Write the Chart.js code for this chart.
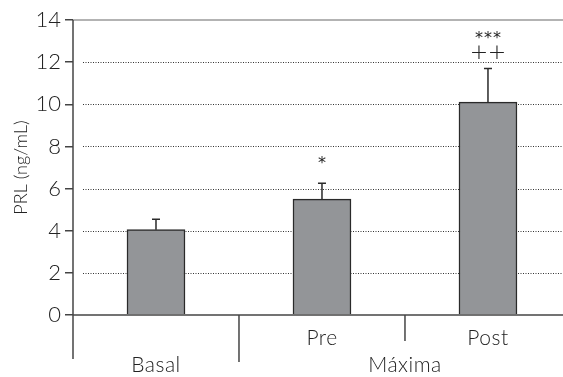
<!DOCTYPE html>
<html><head><meta charset="utf-8">
<script src="https://cdn.jsdelivr.net/npm/chart.js@4"></script>
<style>html,body{margin:0;padding:0;background:#fff}#w{width:563px;height:377px}</style>
</head><body><div id="w"><canvas id="c" width="563" height="377"></canvas></div>
<script>
const categories = ["Basal", "Pre", "Post"];
const groupLabels = ["Basal", "Máxima"];
const values = [4.05, 5.5, 10.1];
const errors = [0.5, 0.75, 1.6];
const marksTop = ["", "*", "***"];
const marksBottom = ["", "", "++"];
const yTicks = [0, 2, 4, 6, 8, 10, 12, 14];

const FONT = "Lato";
const TXT = "#222";

const deco = {
  id: 'deco',
  beforeDatasetsDraw(chart) {
    const {ctx, chartArea: a, scales: {y}} = chart;
    ctx.save();
    ctx.strokeStyle = '#333';
    ctx.lineWidth = 1;
    ctx.setLineDash([1, 1.5]);
    yTicks.forEach(v => {
      if (v === 0 || v === 14) return;
      const py = Math.round(y.getPixelForValue(v)) + 0.5;
      ctx.beginPath(); ctx.moveTo(a.left + 10, py); ctx.lineTo(a.right, py); ctx.stroke();
    });
    ctx.setLineDash([]);
    ctx.strokeStyle = '#9a9a9a';
    ctx.lineWidth = 1.5;
    const pt = y.getPixelForValue(14);
    ctx.beginPath(); ctx.moveTo(a.left, pt); ctx.lineTo(a.right, pt); ctx.stroke();
    ctx.restore();
  },
  afterDatasetsDraw(chart) {
    const {ctx, chartArea: a, scales: {x, y}} = chart;
    ctx.save();
    const p0 = y.getPixelForValue(0);
    ctx.strokeStyle = '#444'; ctx.lineWidth = 1.5;
    ctx.beginPath(); ctx.moveTo(a.left, p0); ctx.lineTo(a.right, p0); ctx.stroke();
    ctx.beginPath(); ctx.moveTo(a.left, y.getPixelForValue(14)); ctx.lineTo(a.left, 359); ctx.stroke();
    ctx.beginPath(); ctx.moveTo(x.getPixelForValue(0.5), p0); ctx.lineTo(x.getPixelForValue(0.5), 362); ctx.stroke();
    ctx.beginPath(); ctx.moveTo(x.getPixelForValue(1.5), p0); ctx.lineTo(x.getPixelForValue(1.5), 341); ctx.stroke();
    ctx.strokeStyle = '#2a2a2a'; ctx.lineWidth = 1.5;
    values.forEach((v, i) => {
      const px = x.getPixelForValue(i);
      const yb = y.getPixelForValue(v);
      const yt = y.getPixelForValue(v + errors[i]);
      ctx.beginPath(); ctx.moveTo(px, yb); ctx.lineTo(px, yt);
      ctx.moveTo(px - 4, yt); ctx.lineTo(px + 4, yt); ctx.stroke();
      ctx.fillStyle = TXT;
      ctx.textAlign = 'center';
      ctx.textBaseline = 'middle';
      if (marksBottom[i]) {
        ctx.font = '200 22px "DejaVu Sans"';
        const n = marksBottom[i].length;
        for (let k = 0; k < n; k++) {
          ctx.fillText(marksBottom[i][k], px + (k - (n - 1) / 2) * 18, yt - 15);
        }
        ctx.font = '16px "DejaVu Sans"';
        const m = marksTop[i].length;
        for (let k = 0; k < m; k++) {
          ctx.fillText(marksTop[i][k], px + (k - (m - 1) / 2) * 9, yt - 30);
        }
      } else if (marksTop[i]) {
        ctx.font = '16px "DejaVu Sans"';
        ctx.fillText(marksTop[i], px, yt - 19);
      }
    });
    ctx.fillStyle = TXT;
    ctx.font = '300 21px ' + FONT;
    try { ctx.letterSpacing = '0.5px'; } catch (e) {}
    ctx.textAlign = 'center'; ctx.textBaseline = 'middle';
    ctx.fillText(categories[1], x.getPixelForValue(1), 338);
    ctx.fillText(categories[2], x.getPixelForValue(2), 338);
    ctx.fillText(groupLabels[0], x.getPixelForValue(0), 365);
    ctx.fillText(groupLabels[1], x.getPixelForValue(1.5), 365);
    ctx.restore();
  }
};

new Chart(document.getElementById('c'), {
  type: 'bar',
  data: {
    datasets: [{
      data: values.map((v, i) => ({x: i, y: v})),
      backgroundColor: '#939598',
      borderColor: '#2a2a2a',
      borderWidth: 1.5,
      barThickness: 58
    }]
  },
  options: {
    responsive: false,
    animation: false,
    events: [],
    layout: {padding: {top: 20, bottom: 62, right: 0, left: 0}},
    plugins: {legend: {display: false}, tooltip: {enabled: false}},
    scales: {
      x: {
        type: 'linear', min: -0.5, max: 2.452, display: false, offset: false
      },
      y: {
        min: 0, max: 14,
        afterFit(s) { s.width = 73; },
        afterBuildTicks(s) { s.ticks = yTicks.map(v => ({value: v})); },
        border: {display: false},
        grid: {drawOnChartArea: false, drawTicks: true, tickLength: 8, color: '#444', lineWidth: 1.5},
        ticks: {color: TXT, font: {family: FONT, size: 22, weight: 300}, padding: 4},
        title: {display: true, text: 'PRL (ng/mL)', color: TXT, font: {family: FONT, size: 18, weight: 300}, padding: {top: 10, bottom: 0}}
      }
    }
  },
  plugins: [deco]
});
</script>
</body></html>
